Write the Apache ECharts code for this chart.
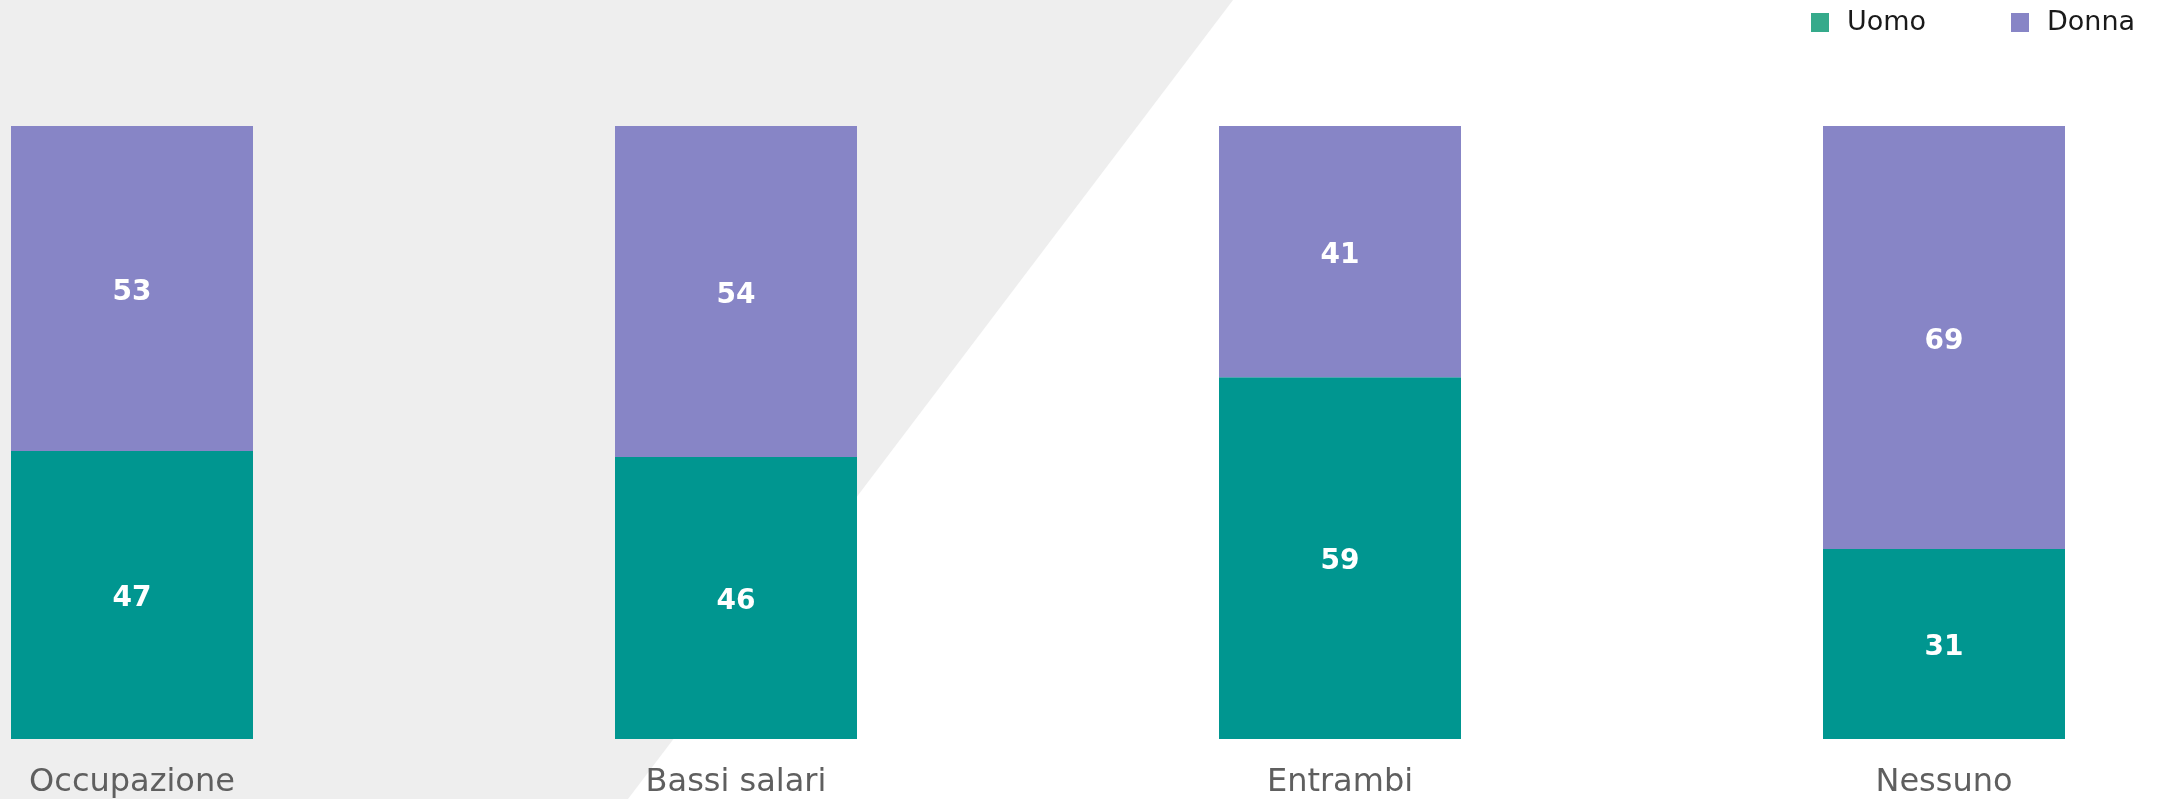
<!DOCTYPE html>
<html>
<head>
<meta charset="utf-8">
<script src="https://cdn.jsdelivr.net/npm/echarts@6/dist/echarts.min.js"></script>
<style>
html,body{margin:0;padding:0;background:#fff;}
#c{width:2164px;height:799px;}
</style>
</head>
<body>
<div id="c"></div>
<script>
const categories = ['Occupazione', 'Bassi salari', 'Entrambi', 'Nessuno'];
const uomo = [47, 46, 59, 31];
const donna = [53, 54, 41, 69];
const seriesNames = ['Uomo', 'Donna'];

const chart = echarts.init(document.getElementById('c'), null, {renderer: 'canvas'});
const labelStyle = {
  show: true,
  position: 'inside',
  offset: [0, 4],
  color: '#ffffff',
  fontFamily: 'DejaVu Sans',
  fontWeight: 'bold',
  fontSize: 28
};
const legendText = {
  color: '#1a1a1a',
  fontFamily: 'DejaVu Sans',
  fontSize: 27,
  padding: [0, 0, 0, 13]
};
chart.setOption({
  animation: false,
  backgroundColor: '#ffffff',
  graphic: [{
    type: 'polygon',
    z: -10,
    silent: true,
    shape: {points: [[0, 0], [1233, 0], [628, 799], [0, 799]]},
    style: {fill: '#eeeeee'}
  }],
  legend: [{
    data: [{name: seriesNames[0], itemStyle: {color: '#35aa8b'}}],
    left: 1806, top: 4,
    icon: 'rect', itemWidth: 18, itemHeight: 19,
    textStyle: legendText
  }, {
    data: [{name: seriesNames[1], itemStyle: {color: '#8785c6'}}],
    left: 2006, top: 4,
    icon: 'rect', itemWidth: 18, itemHeight: 19,
    textStyle: legendText
  }],
  grid: {left: 132, right: 220, top: 126, bottom: 59, containLabel: false},
  xAxis: {
    type: 'category',
    data: categories,
    boundaryGap: false,
    axisLine: {show: false},
    axisTick: {show: false},
    splitLine: {show: false},
    axisLabel: {
      color: '#5f5f5f',
      fontFamily: 'DejaVu Sans',
      fontSize: 32,
      margin: 28
    }
  },
  yAxis: {
    type: 'value',
    min: 0, max: 100,
    show: false
  },
  series: [{
    name: seriesNames[0],
    type: 'bar',
    stack: 'total',
    barWidth: 242,
    data: uomo,
    itemStyle: {color: '#009690'},
    label: labelStyle
  }, {
    name: seriesNames[1],
    type: 'bar',
    stack: 'total',
    barWidth: 242,
    data: donna,
    itemStyle: {color: '#8785c6'},
    label: labelStyle
  }]
});
</script>
</body>
</html>
